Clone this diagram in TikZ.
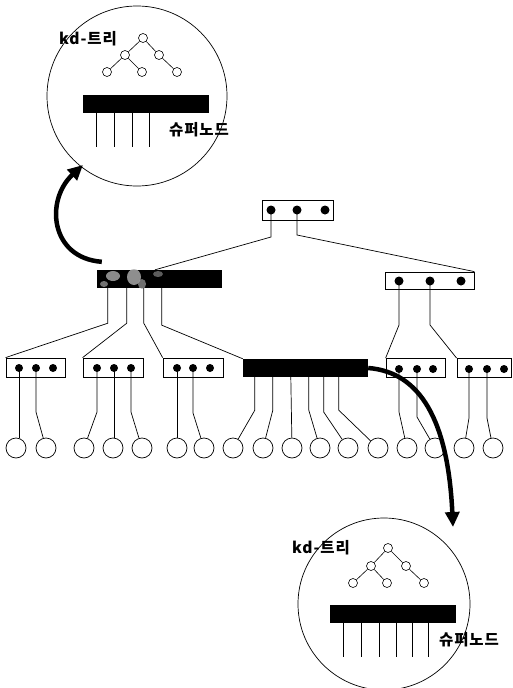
\documentclass[tikz,border=0pt]{standalone}
\usepackage{fontspec}
\newfontfamily\kr[LetterSpace=6]{Noto Sans CJK KR}
\usetikzlibrary{arrows.meta}
\begin{document}
\begin{tikzpicture}[x=1pt,y=-1pt,
  thin line/.style={line width=0.7pt},
  ptrbox/.style={draw,line width=0.8pt,rectangle,inner sep=0pt,fill=white},
  pdot/.style={circle,fill=black,inner sep=0pt,minimum size=8pt},
  bdot/.style={circle,fill=black,inner sep=0pt,minimum size=9pt},
  leaf/.style={circle,draw,line width=0.7pt,inner sep=0pt,minimum size=20pt},
  tnode/.style={circle,draw,line width=0.6pt,inner sep=0pt,minimum size=9pt,fill=white},
  sbarstyle/.style={rectangle,fill=black,inner sep=0pt},
  zoomcirc/.style={circle,draw,line width=0.7pt,inner sep=0pt},
  label/.style={font=\kr\bfseries\fontsize{15.5}{17}\selectfont,inner sep=0pt},
  bigarrow/.style={line width=4.5pt,-{Triangle[length=15pt,width=14pt]}}
]
\useasboundingbox (0,0) rectangle (512,688);

% ---------- root ----------
\node[ptrbox,minimum width=71pt,minimum height=20pt] (root) at (297.5,210) {};
\node[bdot] (r1) at (271,210) {};
\node[bdot] (r2) at (297,210) {};
\node[bdot] (r3) at (325,210) {};

% ---------- level 1 ----------
\node[sbarstyle,minimum width=125pt,minimum height=18pt] (lbar) at (159.5,279) {};
\begin{scope}
\clip (lbar.north west) rectangle (lbar.south east);
\fill[gray!45,opacity=0.7] (113,276) ellipse (7 and 5);
\fill[gray!60,opacity=0.8] (134,277) ellipse (7 and 8);
\fill[gray!75,opacity=0.7] (142,284) ellipse (4 and 5);
\fill[gray!50,opacity=0.6] (104,284) ellipse (4 and 3);
\fill[gray!55,opacity=0.5] (158,274) ellipse (5 and 3);
\fill[black] (123,283) circle (4);
\fill[black] (150,280) circle (4);
\end{scope}
\node[ptrbox,minimum width=89pt,minimum height=17pt] (rbox) at (429.5,280.5) {};
\node[bdot] (q1) at (399,281) {};
\node[bdot] (q2) at (430,281) {};
\node[bdot] (q3) at (461,281) {};

% ---------- level 2 ----------
\node[ptrbox,minimum width=59pt,minimum height=19pt] (b1) at (35.5,367.5) {};
\node[pdot] (a1) at (19,368) {};
\node[pdot] (a2) at (36,368) {};
\node[pdot] (a3) at (53,368) {};
\node[ptrbox,minimum width=60pt,minimum height=19pt] (b2) at (113,367.5) {};
\node[pdot] (c1) at (97,368) {};
\node[pdot] (c2) at (114,368) {};
\node[pdot] (c3) at (131,368) {};
\node[ptrbox,minimum width=60pt,minimum height=19pt] (b3) at (193,367.5) {};
\node[pdot] (e1) at (177,368) {};
\node[pdot] (e2) at (193,368) {};
\node[pdot] (e3) at (210,368) {};
\node[sbarstyle,minimum width=125pt,minimum height=18pt] (sbar) at (305.5,368) {};
\node[ptrbox,minimum width=59pt,minimum height=19pt] (b5) at (415.5,368) {};
\node[pdot] (f1) at (399,369) {};
\node[pdot] (f2) at (417,369) {};
\node[pdot] (f3) at (433,369) {};
\node[ptrbox,minimum width=54pt,minimum height=19pt] (b6) at (484,368) {};
\node[pdot] (g1) at (469,369) {};
\node[pdot] (g2) at (487,369) {};
\node[pdot] (g3) at (504,369) {};

% ---------- leaves ----------
\foreach \x [count=\i] in {16,46,84,113,142,177,204,233,263,292,320,348,378,407,435,464,493}
  \node[leaf] (l\i) at (\x,448) {};

% ---------- connectors ----------
\begin{scope}[thin line]
\draw (r1.center) -- ++(0,27) -- (lbar.north -| 155,0);
\draw (r2.center) -- ++(0,25) -- (rbox.north east);
\draw ([xshift=11pt]lbar.south west) -- ++(0,35) -- (b1.north west);
\draw ([xshift=30pt]lbar.south west) -- ++(0,35) -- (b2.north west);
\draw ([xshift=47pt]lbar.south west) -- ++(0,35) -- (b3.north west);
\draw ([xshift=65pt]lbar.south west) -- ++(0,37) -- (sbar.north west);
\draw (q1.center) -- ++(0,44) -- (b5.north west);
\draw (q2.center) -- ++(0,44) -- (b6.north west);

\draw (a1.center) -- (a1 |- l1.north);
\draw (a2.center) -- ++(0,44) -- (l2);
\draw (c1.center) -- ++(0,44) -- (l3);
\draw (c2.center) -- (c2 |- l4.north);
\draw (c3.center) -- ++(0,44) -- (l5);
\draw (e1.center) -- (e1 |- l6.north);
\draw (e2.center) -- ++(0,45) -- (l7);

\draw ([xshift=12pt]sbar.south west) -- ++(0,33) -- (l8);
\draw ([xshift=30pt]sbar.south west) -- ++(0,33) -- (l9);
\draw ([xshift=48pt]sbar.south west) -- (l10);
\draw ([xshift=66pt]sbar.south west) -- ++(0,33) -- (l11);
\draw ([xshift=81pt]sbar.south west) -- ++(0,35) -- (l12);
\draw ([xshift=96pt]sbar.south west) -- ++(0,33) -- (l13);

\draw (f1.center) -- ++(0,43) -- (l14);
\draw (f2.center) -- ++(0,48) -- (l15);
\draw (g1.center) -- ++(0,49) -- (l16);
\draw (g2.center) -- ++(0,49) -- (l17);
\end{scope}

% ---------- top magnified circle ----------
\node[zoomcirc,minimum size=180pt] (zc1) at (137,96) {};
\node[tnode] (t1) at (143,38) {};
\node[tnode] (t2) at (125,55) {};
\node[tnode] (t3) at (159,55) {};
\node[tnode] (t4) at (107,72) {};
\node[tnode] (t5) at (142,72) {};
\node[tnode] (t6) at (177,72) {};
\draw[line width=0.6pt] (t1) -- (t2) (t1) -- (t3) (t2) -- (t4) (t2) -- (t5) (t3) -- (t6);
\node[sbarstyle,minimum width=126pt,minimum height=18pt] (zb1) at (146,104) {};
\foreach \dx in {13,31,49,66}
  \draw[line width=0.6pt] ([xshift=\dx pt]zb1.south west) -- ++(0,34);
\node[label] (kd1) at (88,39) {kd-트리};
\node[label] (sn1) at (199,130) {슈퍼노드};

% ---------- bottom magnified circle ----------
\node[zoomcirc,minimum size=172pt] (zc2) at (384,604) {};
\node[tnode] (u1) at (388,548) {};
\node[tnode] (u2) at (371,566) {};
\node[tnode] (u3) at (406,566) {};
\node[tnode] (u4) at (353,583) {};
\node[tnode] (u5) at (387,583) {};
\node[tnode] (u6) at (424,583) {};
\draw[line width=0.6pt] (u1) -- (u2) (u1) -- (u3) (u2) -- (u4) (u2) -- (u5) (u3) -- (u6);
\node[sbarstyle,minimum width=126pt,minimum height=18pt] (zb2) at (393,614) {};
\foreach \dx in {13,31,49,66,82,98}
  \draw[line width=0.6pt] ([xshift=\dx pt]zb2.south west) -- ++(0,34);
\node[label] (kd2) at (321,548) {kd-트리};
\node[label] (sn2) at (469,640) {슈퍼노드};

% ---------- big arrows ----------
\coordinate (tail1) at ([shift={(5,-8)}]lbar.north west);
\coordinate (tip1) at (83,165);
\draw[bigarrow] (tail1) .. controls (50,258) and (45,200) .. (tip1);
\coordinate (tip2) at (453,527);
\draw[bigarrow] (sbar.east) .. controls (420,372) and (448,420) .. (tip2);
\end{tikzpicture}
\end{document}
